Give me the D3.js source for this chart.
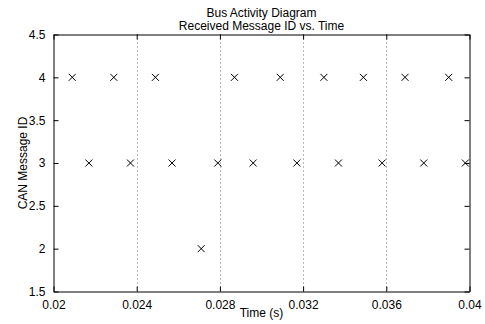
<!DOCTYPE html>
<html>
<head>
<meta charset="utf-8">
<script src="https://cdn.jsdelivr.net/npm/d3@7"></script>
<style>
  body { margin: 0; background: #fff; }
  text { font-family: "Liberation Sans", Arial, Helvetica, sans-serif; font-size: 12px; fill: #000; }
</style>
</head>
<body>
<div id="chart"></div>
<script>
var width = 485;
var height = 324;

// received messages: time (s) and CAN id
var msgTimes = [0.0209, 0.0217, 0.0229, 0.0237, 0.0249, 0.0257, 0.0271, 0.0279, 0.0287, 0.0296,
                0.0309, 0.0317, 0.0330, 0.0337, 0.0349, 0.0358, 0.0369, 0.0378, 0.0390, 0.0398];
var msgIds   = [4, 3, 4, 3, 4, 3, 2, 3, 4, 3,
                4, 3, 4, 3, 4, 3, 4, 3, 4, 3];

var xTicks = [0.02, 0.024, 0.028, 0.032, 0.036, 0.04];
var xTickLabels = ["0.02", "0.024", "0.028", "0.032", "0.036", "0.04"];
var yTicks = [1.5, 2, 2.5, 3, 3.5, 4, 4.5];
var yTickLabels = ["1.5", "2", "2.5", "3", "3.5", "4", "4.5"];

// plot box (names avoid window.top etc.)
var padL = 53.5, padR = 469.5, padT = 34.5, padB = 291.5;

var x = d3.scaleLinear().domain([0.02, 0.04]).range([padL, padR]);
var y = d3.scaleLinear().domain([1.5, 4.5]).range([padB, padT]);

var svg = d3.select("#chart")
    .append("svg")
    .attr("width", width)
    .attr("height", height);

// vertical dotted grid
svg.append("g")
    .selectAll("line")
    .data(xTicks.slice(1, -1))
    .enter()
        .append("line")
        .attr("x1", function(d){ return Math.round(x(d)) + 0.5; })
        .attr("x2", function(d){ return Math.round(x(d)) + 0.5; })
        .attr("y1", padT)
        .attr("y2", padB)
        .attr("stroke", "#000")
        .attr("stroke-width", 1)
        .attr("stroke-dasharray", "1,3")
        .attr("opacity", 0.55);

// axes (inward ticks on all four sides, MATLAB style)
var tickLen = 5;
var xAxisB = d3.axisBottom(x).tickValues(xTicks).tickSizeInner(-tickLen).tickSizeOuter(0)
    .tickFormat(function(d, i){ return xTickLabels[i]; }).tickPadding(9);
var xAxisT = d3.axisTop(x).tickValues(xTicks).tickSizeInner(-tickLen).tickSizeOuter(0).tickFormat("");
var yAxisL = d3.axisLeft(y).tickValues(yTicks).tickSizeInner(-tickLen).tickSizeOuter(0)
    .tickFormat(function(d, i){ return yTickLabels[i]; }).tickPadding(8);
var yAxisR = d3.axisRight(y).tickValues(yTicks).tickSizeInner(-tickLen).tickSizeOuter(0).tickFormat("");

function styleAxis(g){
    g.attr("font-size", null).attr("font-family", null);
    g.selectAll("path").attr("stroke", "#000").attr("stroke-width", 1);
    g.selectAll("line").attr("stroke", "#000");
}

svg.append("g").attr("transform", "translate(0," + padB + ")").call(xAxisB).call(styleAxis);
svg.append("g").attr("transform", "translate(0," + padT + ")").call(xAxisT).call(styleAxis);
svg.append("g").attr("transform", "translate(" + padL + ",0)").call(yAxisL).call(styleAxis);
svg.append("g").attr("transform", "translate(" + padR + ",0)").call(yAxisR).call(styleAxis);

// x markers
var m = 3.5;
svg.append("g")
    .selectAll(".mark")
    .data(msgTimes.map(function(t, i){ return { t: t, id: msgIds[i] }; }))
    .enter()
        .append("path")
        .attr("class", "mark")
        .attr("d", function(d){
            var cx = x(d.t), cy = y(d.id);
            return "M" + (cx - m) + "," + (cy - m) + "L" + (cx + m) + "," + (cy + m) +
                   "M" + (cx - m) + "," + (cy + m) + "L" + (cx + m) + "," + (cy - m);
        })
        .attr("stroke", "#000")
        .attr("stroke-width", 1)
        .attr("fill", "none");

// titles and labels
var cxMid = (padL + padR) / 2;
svg.append("text").attr("x", cxMid).attr("y", 17).attr("text-anchor", "middle").text("Bus Activity Diagram");
svg.append("text").attr("x", cxMid).attr("y", 30).attr("text-anchor", "middle").text("Received Message ID vs. Time");
svg.append("text").attr("x", cxMid).attr("y", 317).attr("text-anchor", "middle").text("Time (s)");
svg.append("text")
    .attr("transform", "translate(27," + ((padT + padB) / 2) + ") rotate(-90)")
    .attr("text-anchor", "middle")
    .text("CAN Message ID");
</script>
</body>
</html>
